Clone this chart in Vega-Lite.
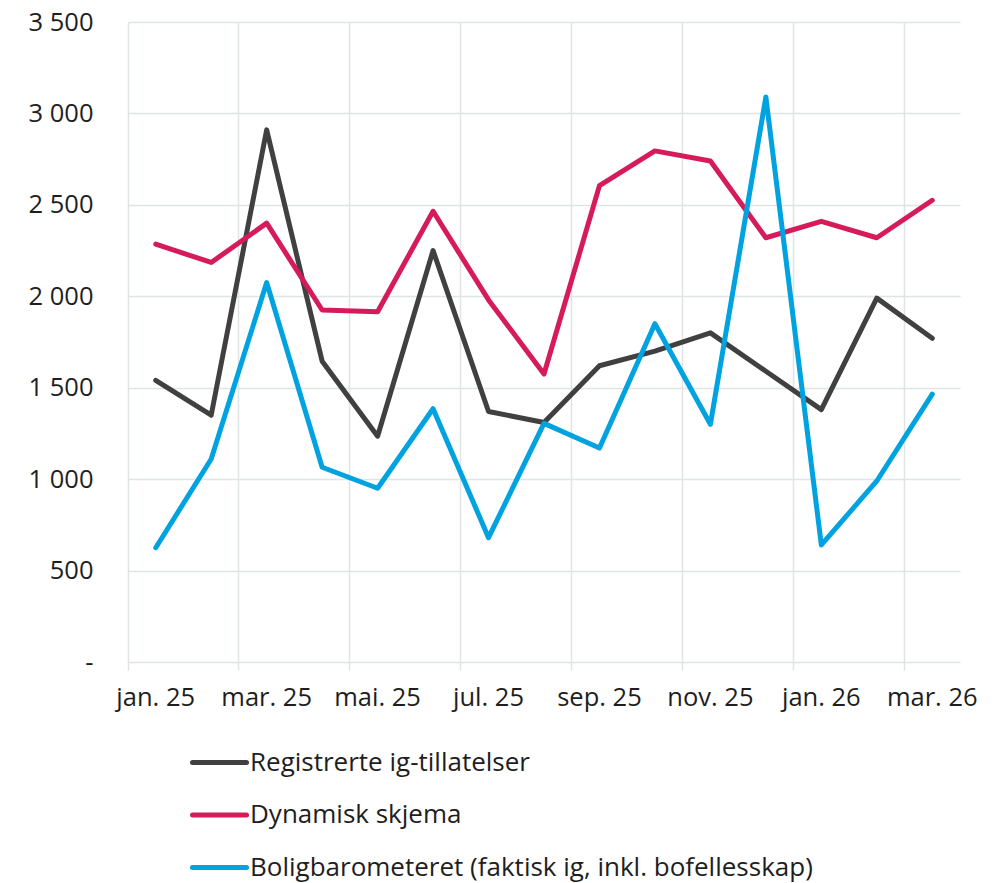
{
  "$schema": "https://vega.github.io/schema/vega-lite/v6.json",
  "width": 832,
  "height": 640,
  "autosize": {"type": "none"},
  "padding": {"left": 128, "top": 22, "right": 45, "bottom": 221},
  "background": "white",
  "config": {"view": {"stroke": null}, "font": "Open Sans"},
  "data": {
    "values": [
      {"month": "jan. 25", "series": "Registrerte ig-tillatelser", "value": 1540},
      {"month": "feb. 25", "series": "Registrerte ig-tillatelser", "value": 1350},
      {"month": "mar. 25", "series": "Registrerte ig-tillatelser", "value": 2910},
      {"month": "apr. 25", "series": "Registrerte ig-tillatelser", "value": 1645},
      {"month": "mai. 25", "series": "Registrerte ig-tillatelser", "value": 1235},
      {"month": "jun. 25", "series": "Registrerte ig-tillatelser", "value": 2250},
      {"month": "jul. 25", "series": "Registrerte ig-tillatelser", "value": 1370},
      {"month": "aug. 25", "series": "Registrerte ig-tillatelser", "value": 1310},
      {"month": "sep. 25", "series": "Registrerte ig-tillatelser", "value": 1620},
      {"month": "okt. 25", "series": "Registrerte ig-tillatelser", "value": 1700},
      {"month": "nov. 25", "series": "Registrerte ig-tillatelser", "value": 1800},
      {"month": "des. 25", "series": "Registrerte ig-tillatelser", "value": 1590},
      {"month": "jan. 26", "series": "Registrerte ig-tillatelser", "value": 1380},
      {"month": "feb. 26", "series": "Registrerte ig-tillatelser", "value": 1990},
      {"month": "mar. 26", "series": "Registrerte ig-tillatelser", "value": 1770},
      {"month": "jan. 25", "series": "Dynamisk skjema", "value": 2285},
      {"month": "feb. 25", "series": "Dynamisk skjema", "value": 2185},
      {"month": "mar. 25", "series": "Dynamisk skjema", "value": 2400},
      {"month": "apr. 25", "series": "Dynamisk skjema", "value": 1925},
      {"month": "mai. 25", "series": "Dynamisk skjema", "value": 1915},
      {"month": "jun. 25", "series": "Dynamisk skjema", "value": 2465},
      {"month": "jul. 25", "series": "Dynamisk skjema", "value": 1980},
      {"month": "aug. 25", "series": "Dynamisk skjema", "value": 1575},
      {"month": "sep. 25", "series": "Dynamisk skjema", "value": 2605},
      {"month": "okt. 25", "series": "Dynamisk skjema", "value": 2795},
      {"month": "nov. 25", "series": "Dynamisk skjema", "value": 2740},
      {"month": "des. 25", "series": "Dynamisk skjema", "value": 2320},
      {"month": "jan. 26", "series": "Dynamisk skjema", "value": 2410},
      {"month": "feb. 26", "series": "Dynamisk skjema", "value": 2320},
      {"month": "mar. 26", "series": "Dynamisk skjema", "value": 2525},
      {"month": "jan. 25", "series": "Boligbarometeret (faktisk ig, inkl. bofellesskap)", "value": 625},
      {"month": "feb. 25", "series": "Boligbarometeret (faktisk ig, inkl. bofellesskap)", "value": 1110},
      {"month": "mar. 25", "series": "Boligbarometeret (faktisk ig, inkl. bofellesskap)", "value": 2075},
      {"month": "apr. 25", "series": "Boligbarometeret (faktisk ig, inkl. bofellesskap)", "value": 1065},
      {"month": "mai. 25", "series": "Boligbarometeret (faktisk ig, inkl. bofellesskap)", "value": 950},
      {"month": "jun. 25", "series": "Boligbarometeret (faktisk ig, inkl. bofellesskap)", "value": 1385},
      {"month": "jul. 25", "series": "Boligbarometeret (faktisk ig, inkl. bofellesskap)", "value": 680},
      {"month": "aug. 25", "series": "Boligbarometeret (faktisk ig, inkl. bofellesskap)", "value": 1305},
      {"month": "sep. 25", "series": "Boligbarometeret (faktisk ig, inkl. bofellesskap)", "value": 1170},
      {"month": "okt. 25", "series": "Boligbarometeret (faktisk ig, inkl. bofellesskap)", "value": 1850},
      {"month": "nov. 25", "series": "Boligbarometeret (faktisk ig, inkl. bofellesskap)", "value": 1300},
      {"month": "des. 25", "series": "Boligbarometeret (faktisk ig, inkl. bofellesskap)", "value": 3090},
      {"month": "jan. 26", "series": "Boligbarometeret (faktisk ig, inkl. bofellesskap)", "value": 640},
      {"month": "feb. 26", "series": "Boligbarometeret (faktisk ig, inkl. bofellesskap)", "value": 990},
      {"month": "mar. 26", "series": "Boligbarometeret (faktisk ig, inkl. bofellesskap)", "value": 1465}
    ]
  },
  "mark": {"type": "line", "strokeWidth": 5, "strokeCap": "round", "strokeJoin": "round"},
  "encoding": {
    "x": {
      "field": "month",
      "type": "nominal",
      "sort": null,
      "scale": {
        "type": "band",
        "domain": ["jan. 25", "feb. 25", "mar. 25", "apr. 25", "mai. 25", "jun. 25", "jul. 25", "aug. 25", "sep. 25", "okt. 25", "nov. 25", "des. 25", "jan. 26", "feb. 26", "mar. 26"],
        "paddingInner": 0,
        "paddingOuter": 0
      },
      "axis": {
        "title": null,
        "values": ["jan. 25", "mar. 25", "mai. 25", "jul. 25", "sep. 25", "nov. 25", "jan. 26", "mar. 26"],
        "bandPosition": 0,
        "labelAngle": 0,
        "labelAlign": "center",
        "labelOverlap": false,
        "grid": true,
        "gridColor": "#dfe4e4",
        "gridWidth": 1.5,
        "ticks": true,
        "tickColor": "#dfe4e4",
        "tickWidth": 1.5,
        "tickSize": 8,
        "domain": false,
        "labelFontSize": 25.5,
        "labelColor": "#1e1e1e",
        "labelPadding": 15
      }
    },
    "y": {
      "field": "value",
      "type": "quantitative",
      "scale": {"domain": [0, 3500], "nice": false},
      "axis": {
        "title": null,
        "values": [0, 500, 1000, 1500, 2000, 2500, 3000, 3500],
        "grid": true,
        "gridColor": "#dfe4e4",
        "gridWidth": 1.5,
        "ticks": false,
        "domain": false,
        "labelPadding": 35,
        "labelFontSize": 25.5,
        "labelColor": "#1e1e1e",
        "labelExpr": "datum.value == 0 ? '-\u00a0\u00a0' : replace(format(datum.value, ','), ',', ' ')"
      }
    },
    "color": {
      "field": "series",
      "type": "nominal",
      "scale": {
        "domain": ["Registrerte ig-tillatelser", "Dynamisk skjema", "Boligbarometeret (faktisk ig, inkl. bofellesskap)"],
        "range": ["#404040", "#d61b5a", "#00a3e0"]
      },
      "legend": {
        "title": null,
        "orient": "none",
        "legendX": 62,
        "legendY": 711,
        "direction": "vertical",
        "symbolType": "stroke",
        "symbolSize": 2916,
        "symbolStrokeWidth": 5,
        "labelFontSize": 26,
        "labelColor": "#1e1e1e",
        "labelOffset": 1,
        "labelLimit": 800,
        "rowPadding": 9.5,
        "padding": 0,
        "encode": {"symbols": {"update": {"strokeCap": {"value": "round"}}}}
      }
    }
  }
}
